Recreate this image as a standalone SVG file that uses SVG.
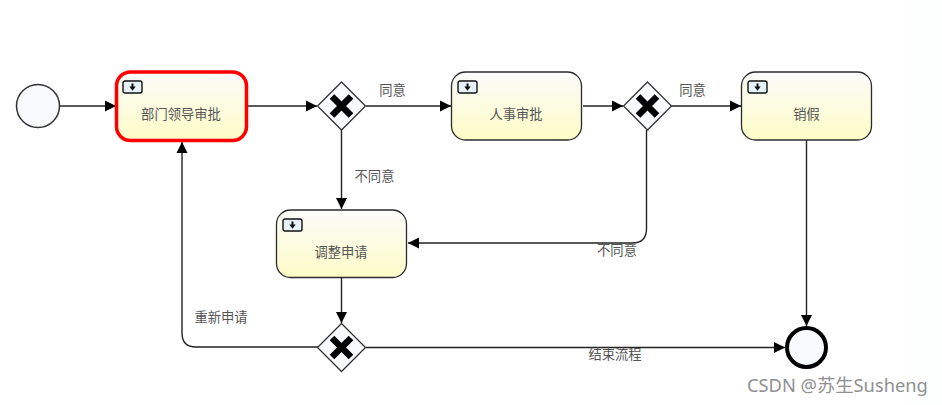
<svg xmlns="http://www.w3.org/2000/svg" width="942" height="405" viewBox="0 0 942 405">
<style>
text{font-family:"Noto Sans CJK SC","Liberation Sans",sans-serif;font-size:13.300px;fill:#555}
.c{text-anchor:middle}
.task{fill:url(#g);stroke:#2b2b2b;stroke-width:1.300}
.ev{fill:#f8fafd;stroke:#333;stroke-width:1.500}
.gw{fill:#f8fafd;stroke:#333;stroke-width:1.300}
.x{fill:none;stroke:#000;stroke-width:6.500}
.ic{fill:#e8f2fa;stroke:#111;stroke-width:1.400}
.cn{fill:none;stroke:#222;stroke-width:1.400;marker-end:url(#a)}
</style>
<defs>
<linearGradient id="g" x1="0" y1="0" x2="0" y2="1"><stop offset="0" stop-color="#fbfbfb"/><stop offset="1" stop-color="#fefcc6"/></linearGradient>
<marker id="a" markerUnits="userSpaceOnUse" markerWidth="12" markerHeight="12" refX="11" refY="6" orient="auto"><path d="M0 0.500 L11 6 L0 11.500 Z" fill="#000"/></marker>
<g id="icon"><rect class="ic" x="0" y="0" width="19" height="12" rx="2"/><path d="M8.500 2.500h2v3h2.200L9.500 9.800 6.300 5.500h2.200z" fill="#111"/></g>
<g id="xm"><path class="x" d="M-9.500 -9.500L9.500 9.500M9.500 -9.500L-9.500 9.500"/></g>
</defs>
<rect width="942" height="405" fill="#fff"/>
<rect x="910" width="32" height="405" fill="#fdfefe"/>
<g id="connectors">
<path class="cn" d="M60 106H116"/>
<path class="cn" d="M248 106H317"/>
<path class="cn" d="M366 106H451"/>
<path class="cn" d="M583 106H623"/>
<path class="cn" d="M671 106H741"/>
<path class="cn" d="M341.500 130V209"/>
<path class="cn" d="M646.500 130V229Q646.500 243 632 243H408"/>
<path class="cn" d="M341.500 278V323"/>
<path class="cn" d="M318 347H196Q182 347 182 333V142"/>
<path class="cn" d="M366 347.500H785"/>
<path class="cn" d="M806.500 140V326"/>
</g>
<g id="start"><circle class="ev" cx="38" cy="106" r="21.500"/></g>
<g id="task1"><rect class="task" x="116.500" y="72" width="130" height="68.500" rx="14" style="stroke:#f00;stroke-width:3.500"/><use href="#icon" x="123" y="81"/><text class="c" x="181" y="119">部门领导审批</text></g>
<g id="gw1"><path class="gw" d="M341.500 82L365.500 106L341.500 130L317.500 106Z"/><use href="#xm" x="341.500" y="106"/></g>
<g id="task2"><rect class="task" x="451.500" y="72" width="130" height="68" rx="14"/><use href="#icon" x="458" y="81"/><text class="c" x="516" y="119">人事审批</text></g>
<g id="gw2"><path class="gw" d="M647.500 82L671.500 106L647.500 130L623.500 106Z"/><use href="#xm" x="647.500" y="106"/></g>
<g id="task3"><rect class="task" x="741.500" y="72" width="130" height="68" rx="14"/><use href="#icon" x="748" y="81"/><text class="c" x="806.500" y="119">销假</text></g>
<g id="task4"><rect class="task" x="276.500" y="210" width="130" height="67.500" rx="14"/><use href="#icon" x="283" y="219"/><text class="c" x="341" y="256.500">调整申请</text></g>
<g id="gw3"><path class="gw" d="M341.500 323.500L365.500 347.500L341.500 371.500L317.500 347.500Z"/><use href="#xm" x="341.500" y="347.500"/></g>
<g id="end"><circle class="ev" cx="806.500" cy="347.500" r="19.500" style="stroke:#000;stroke-width:4"/></g>
<g id="labels">
<text class="c" x="392.500" y="95">同意</text>
<text class="c" x="692.500" y="95">同意</text>
<text class="c" x="374.500" y="180.500">不同意</text>
<text class="c" x="617" y="254.500">不同意</text>
<text class="c" x="221" y="321.500">重新申请</text>
<text class="c" x="615" y="358.500">结束流程</text>
<text x="747" y="392" style="font-size:18.300px;fill:#909090;font-family:'Noto Sans','Noto Sans CJK SC',sans-serif">CSDN @苏生Susheng</text>
</g>
</svg>
